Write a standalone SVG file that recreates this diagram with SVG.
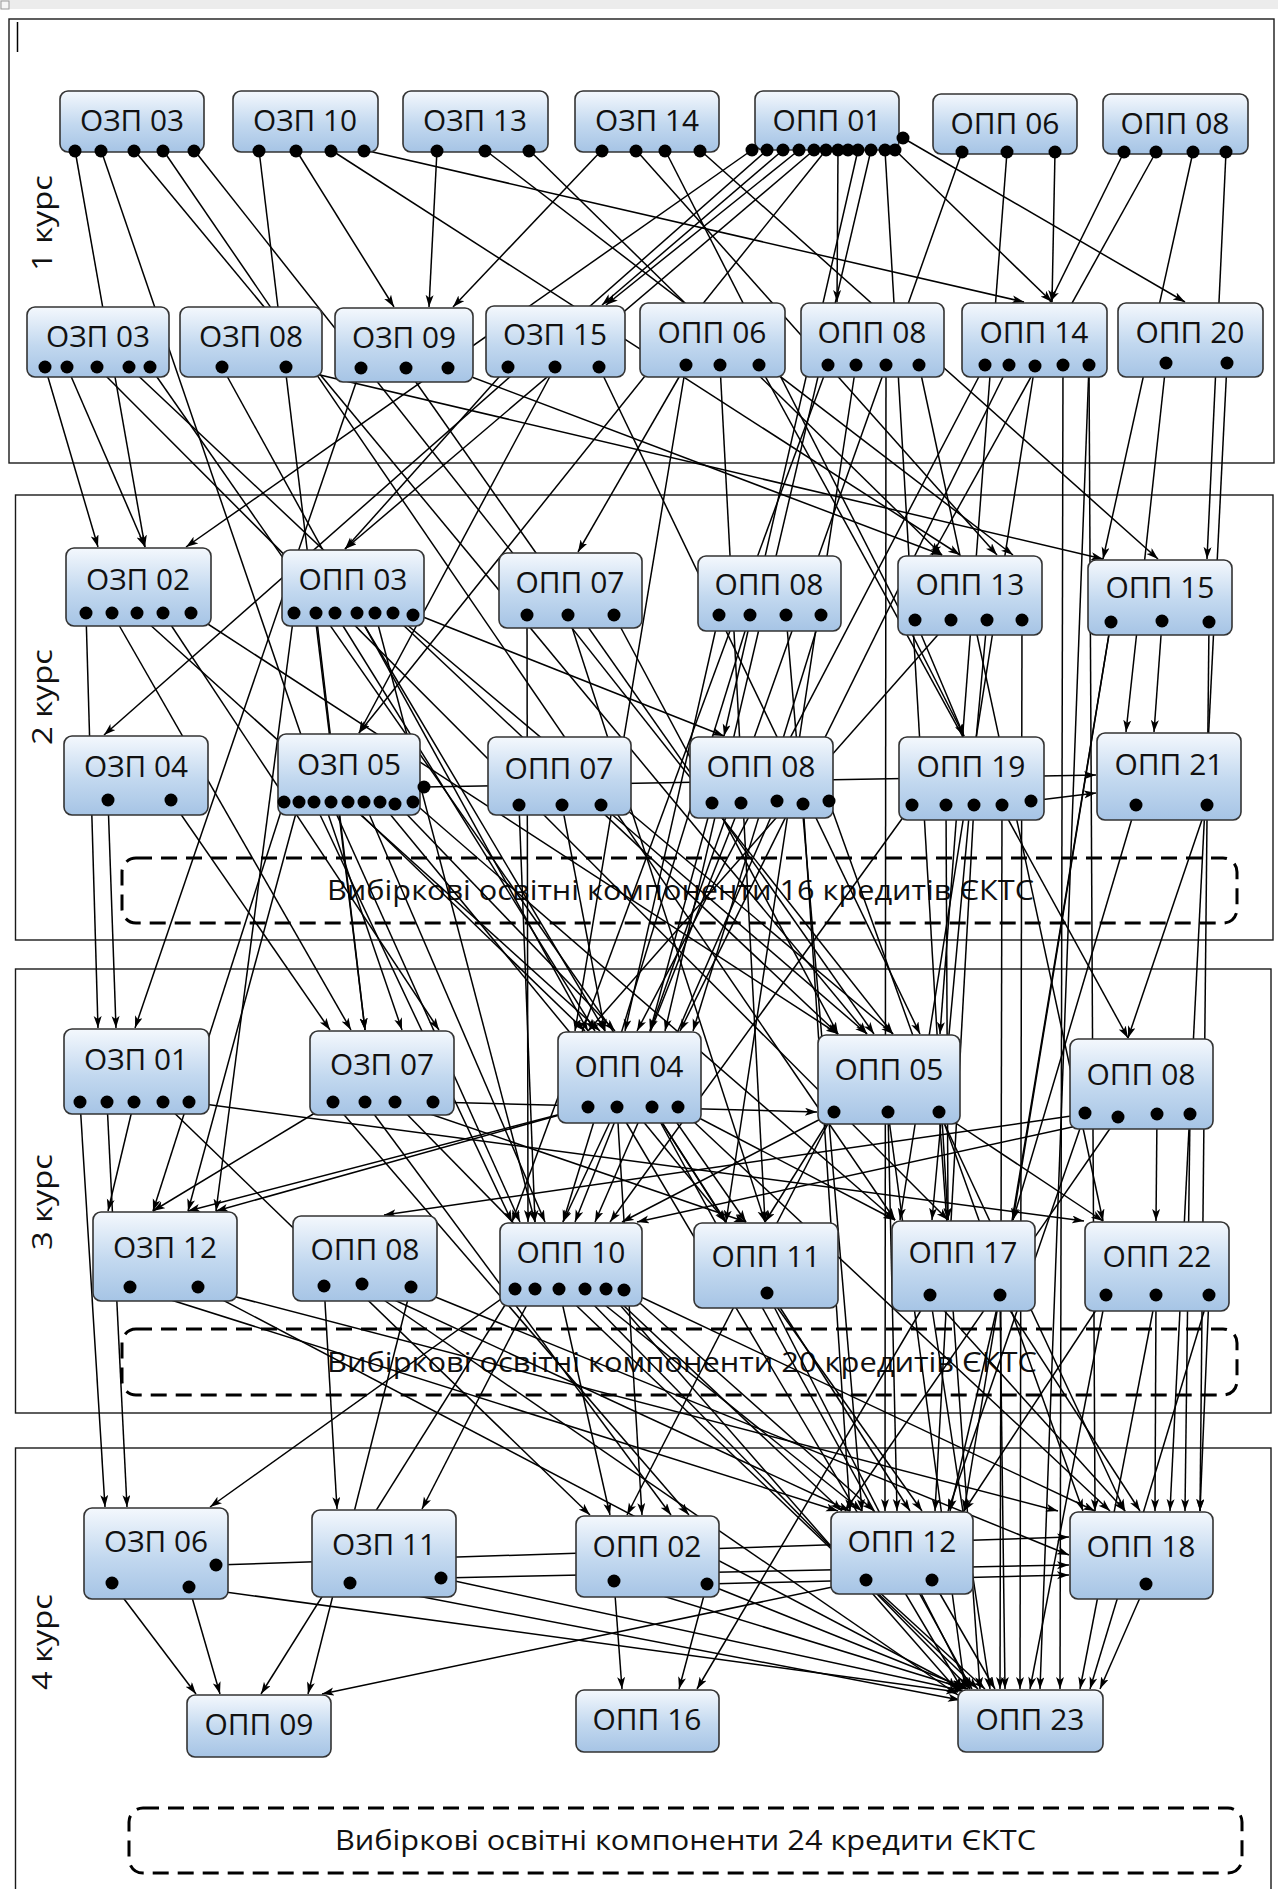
<svg xmlns="http://www.w3.org/2000/svg" width="1278" height="1889" viewBox="0 0 1278 1889">
<defs>
<linearGradient id="ng" x1="0" y1="0" x2="0" y2="1">
<stop offset="0" stop-color="#f4f8fd"/>
<stop offset="0.55" stop-color="#c2d8ef"/>
<stop offset="1" stop-color="#a6c4e5"/>
</linearGradient>
<marker id="ah" markerUnits="userSpaceOnUse" markerWidth="13" markerHeight="9" refX="12" refY="4" orient="auto">
<path d="M0,0 L12,4 L0,8 L3,4 z" fill="#000"/>
</marker>
<style>
.sec{fill:#fff;stroke:#1a1a1a;stroke-width:1.4}
.opt{fill:none;stroke:#000;stroke-width:3;stroke-dasharray:16 9}
.nb{fill:url(#ng);stroke:#333;stroke-width:1.6}
.lb{font-family:"Open Sans","Noto Sans","DejaVu Sans",sans-serif;font-size:30px;text-anchor:middle;fill:#111}
.sl{font-family:"Open Sans","Noto Sans","DejaVu Sans",sans-serif;font-size:27px;text-anchor:middle;fill:#111}
.ot{font-family:"Open Sans","Noto Sans","DejaVu Sans",sans-serif;font-size:28px;fill:#111}
.d{fill:#000}
#conn path{fill:none;stroke:#000;stroke-width:1.5}
</style>
</defs>
<rect x="0" y="0" width="1278" height="1889" fill="#fff"/>
<rect x="0" y="0" width="1278" height="9" fill="#ececec"/>
<rect x="1" y="1" width="8" height="8" fill="#f6f6f6" stroke="#9a9a9a" stroke-width="1"/>
<g id="sections">
<rect class="sec" x="9" y="19" width="1265" height="444"/>
<rect class="sec" x="15.5" y="495" width="1257.5" height="445"/>
<rect class="sec" x="15.5" y="969" width="1255.5" height="444"/>
<rect class="sec" x="15.5" y="1448" width="1255.5" height="460"/>
<line x1="17.5" y1="22" x2="17.5" y2="52" stroke="#000" stroke-width="1.5"/>
<text class="sl" transform="translate(52,223) rotate(-90)" textLength="96" lengthAdjust="spacingAndGlyphs">1 курс</text>
<text class="sl" transform="translate(52,697) rotate(-90)" textLength="96" lengthAdjust="spacingAndGlyphs">2 курс</text>
<text class="sl" transform="translate(52,1202) rotate(-90)" textLength="96" lengthAdjust="spacingAndGlyphs">3 курс</text>
<text class="sl" transform="translate(52,1642) rotate(-90)" textLength="96" lengthAdjust="spacingAndGlyphs">4 курс</text>
</g>
<g id="electives">
<rect class="opt" x="122" y="858" width="1115" height="65" rx="14"/>
<text class="ot" x="327" y="900" textLength="707" lengthAdjust="spacingAndGlyphs">Вибіркові освітні компоненти 16 кредитів ЄКТС</text>
<rect class="opt" x="122" y="1329" width="1115" height="66" rx="14"/>
<text class="ot" x="327" y="1372" textLength="710" lengthAdjust="spacingAndGlyphs">Вибіркові освітні компоненти 20 кредитів ЄКТС</text>
<rect class="opt" x="129" y="1808" width="1113" height="65" rx="14"/>
<text class="ot" x="335" y="1850" textLength="701" lengthAdjust="spacingAndGlyphs">Вибіркові освітні компоненти 24 кредити ЄКТС</text>
</g>
<g id="conn" marker-end="url(#ah)">
<path d="M75 150L145 547"/><path d="M101 150L402 1030"/><path d="M134 150L867 1034"/><path d="M163 150L895 1220"/><path d="M194 150L893 1034"/>
<path d="M259 150L365 1030"/><path d="M296 150L394 307"/><path d="M331 150L960 555"/><path d="M364 150L1024 302"/>
<path d="M437 150L429 307"/><path d="M485 150L1013 555"/><path d="M529 150L942 555"/>
<path d="M602 150L453 307"/><path d="M636 150L997 555"/><path d="M665 150L964 736"/><path d="M700 150L1158 559"/>
<path d="M752 150L186 547"/><path d="M767 150L104 735"/><path d="M783 150L602 305"/><path d="M799 150L606 305"/><path d="M814 150L345 549"/><path d="M826 150L359 733"/><path d="M838 150L837 302"/><path d="M858 150L724 736"/><path d="M871 150L665 1031"/><path d="M885 150L948 1220"/><path d="M895 150L1052 302"/><path d="M903 138L1185 302"/>
<path d="M962 152L650 1031"/><path d="M1007 152L940 1034"/><path d="M1055 152L1052 302"/>
<path d="M1124 152L1050 302"/><path d="M1156 152L932 555"/><path d="M1193 152L1103 559"/><path d="M1226 152L1207 559"/>
<path d="M45 367L98 547"/><path d="M67 367L145 547"/><path d="M97 367L948 1220"/><path d="M129 367L838 1034"/><path d="M150 367L746 1222"/>
<path d="M222 367L588 1031"/><path d="M286 367L1103 559"/>
<path d="M361 368L135 1028"/><path d="M406 368L874 1034"/><path d="M448 368L942 555"/>
<path d="M508 367L345 549"/><path d="M555 367L359 733"/><path d="M599 367L920 1034"/>
<path d="M686 365L575 1031"/><path d="M686 365L578 552"/><path d="M720 365L765 1222"/><path d="M759 365L1128 1038"/>
<path d="M828 365L512 1222"/><path d="M856 365L726 1222"/><path d="M886 365L885 1511"/><path d="M919 365L1103 1221"/>
<path d="M985 365L637 1031"/><path d="M1009 365L680 1031"/><path d="M1035 365L900 1220"/><path d="M1063 365L1060 1689"/><path d="M1089 365L1095 1511"/><path d="M1089 365L1040 1689"/>
<path d="M1166 363L1126 732"/><path d="M1227 363L1170 1511"/>
<path d="M86 613L98 1028"/><path d="M112 613L351 1030"/><path d="M137 613L600 1031"/><path d="M163 613L439 1030"/><path d="M191 613L838 1034"/>
<path d="M294 613L216 1211"/><path d="M316 613L365 1030"/><path d="M335 613L595 1031"/><path d="M357 613L605 1031"/><path d="M375 613L535 1222"/><path d="M393 613L893 1034"/><path d="M413 613L724 736"/>
<path d="M527 615L528 1222"/><path d="M568 615L765 1222"/><path d="M614 615L838 1034"/>
<path d="M719 615L625 1031"/><path d="M750 615L563 1222"/><path d="M786 615L862 1511"/><path d="M821 615L693 1031"/>
<path d="M915 620L964 736"/><path d="M951 620L588 1031"/><path d="M987 620L932 1220"/><path d="M1022 620L1020 1689"/>
<path d="M1111 622L964 1511"/><path d="M1111 622L1013 1220"/><path d="M1162 622L1154 732"/><path d="M1209 622L1200 1511"/>
<path d="M108 800L116 1028"/><path d="M171 800L330 1030"/>
<path d="M284 802L153 1211"/><path d="M299 802L188 1211"/><path d="M314 802L512 1222"/><path d="M331 802L520 1222"/><path d="M348 802L585 1031"/><path d="M364 802L545 1222"/><path d="M380 802L726 1222"/><path d="M395 802L615 1031"/><path d="M413 802L895 1220"/><path d="M424 787L1096 775"/>
<path d="M519 805L535 1222"/><path d="M562 805L605 1031"/><path d="M601 805L867 1034"/>
<path d="M712 803L650 1031"/><path d="M741 803L575 1222"/><path d="M777 803L595 1222"/><path d="M803 803L850 1511"/><path d="M829 801L1083 1511"/>
<path d="M912 805L610 1222"/><path d="M946 805L948 1220"/><path d="M974 805L935 1511"/><path d="M1002 805L1000 1689"/><path d="M1031 801L1096 793"/>
<path d="M1136 805L1013 1220"/><path d="M1207 805L1128 1038"/>
<path d="M80 1102L105 1507"/><path d="M107 1102L127 1507"/><path d="M134 1102L108 1211"/><path d="M163 1102L590 1515"/><path d="M189 1102L1084 1221"/>
<path d="M333 1102L689 1515"/><path d="M365 1102L671 1515"/><path d="M395 1102L746 1222"/><path d="M433 1102L817 1112"/><path d="M333 1102L153 1211"/><path d="M395 1102L970 1689"/>
<path d="M588 1107L216 1211"/><path d="M588 1107L188 1211"/><path d="M617 1107L563 1222"/><path d="M617 1107L642 1515"/><path d="M617 1107L962 1689"/><path d="M652 1107L726 1222"/><path d="M652 1107L910 1511"/><path d="M652 1107L972 1689"/><path d="M678 1107L895 1220"/><path d="M678 1107L1110 1511"/>
<path d="M834 1112L765 1222"/><path d="M834 1112L627 1515"/><path d="M834 1112L622 1222"/><path d="M888 1112L897 1511"/><path d="M888 1112L965 1689"/><path d="M939 1112L1103 1221"/><path d="M939 1112L1125 1511"/><path d="M939 1112L980 1689"/>
<path d="M1085 1114L384 1215"/><path d="M1118 1117L637 1222"/><path d="M1157 1114L1156 1221"/><path d="M1190 1114L1185 1511"/><path d="M1085 1114L948 1511"/><path d="M1118 1117L845 1511"/>
<path d="M130 1287L838 1511"/><path d="M198 1287L1058 1511"/><path d="M198 1287L963 1689"/>
<path d="M324 1285L337 1509"/><path d="M362 1285L850 1511"/><path d="M362 1285L958 1695"/><path d="M411 1287L308 1694"/><path d="M411 1287L1069 1555"/>
<path d="M515 1289L210 1507"/><path d="M515 1289L261 1694"/><path d="M535 1289L422 1509"/><path d="M559 1289L610 1515"/><path d="M559 1289L978 1689"/><path d="M585 1289L862 1511"/><path d="M606 1289L956 1689"/><path d="M606 1289L842 1511"/><path d="M624 1289L874 1511"/><path d="M624 1289L1095 1511"/>
<path d="M767 1293L970 1689"/><path d="M767 1293L922 1511"/>
<path d="M930 1295L697 1689"/><path d="M930 1295L990 1689"/><path d="M930 1295L1125 1511"/><path d="M1000 1295L1140 1511"/><path d="M1000 1295L1005 1689"/><path d="M1000 1295L950 1511"/>
<path d="M1106 1295L964 1511"/><path d="M1106 1295L1030 1689"/><path d="M1156 1295L1155 1511"/><path d="M1156 1295L1080 1689"/><path d="M1209 1295L1200 1511"/><path d="M1209 1295L1090 1689"/>
<path d="M112 1583L196 1694"/><path d="M189 1587L220 1694"/><path d="M189 1587L958 1692"/><path d="M216 1565L1069 1537"/>
<path d="M350 1583L960 1700"/><path d="M441 1578L1069 1565"/><path d="M441 1578L964 1691"/>
<path d="M614 1581L622 1689"/><path d="M614 1581L966 1689"/><path d="M707 1584L679 1689"/><path d="M707 1584L1069 1575"/><path d="M707 1584L968 1689"/>
<path d="M866 1580L322 1694"/><path d="M866 1580L985 1689"/><path d="M932 1580L995 1689"/><path d="M1146 1584L1100 1689"/>
</g>
<g id="n-A1"><rect class="nb" x="60" y="91" width="144" height="61" rx="8"/><text class="lb" x="132" y="131" textLength="104" lengthAdjust="spacingAndGlyphs">ОЗП 03</text><circle class="d" cx="75" cy="151" r="6.5"/><circle class="d" cx="101" cy="151" r="6.5"/><circle class="d" cx="134" cy="151" r="6.5"/><circle class="d" cx="163" cy="151" r="6.5"/><circle class="d" cx="194" cy="151" r="6.5"/></g>
<g id="n-A2"><rect class="nb" x="233" y="91" width="145" height="61" rx="8"/><text class="lb" x="305" y="131" textLength="104" lengthAdjust="spacingAndGlyphs">ОЗП 10</text><circle class="d" cx="259" cy="151" r="6.5"/><circle class="d" cx="296" cy="151" r="6.5"/><circle class="d" cx="331" cy="151" r="6.5"/><circle class="d" cx="364" cy="151" r="6.5"/></g>
<g id="n-A3"><rect class="nb" x="403" y="91" width="145" height="61" rx="8"/><text class="lb" x="475" y="131" textLength="104" lengthAdjust="spacingAndGlyphs">ОЗП 13</text><circle class="d" cx="437" cy="151" r="6.5"/><circle class="d" cx="485" cy="151" r="6.5"/><circle class="d" cx="529" cy="151" r="6.5"/></g>
<g id="n-A4"><rect class="nb" x="575" y="91" width="144" height="61" rx="8"/><text class="lb" x="647" y="131" textLength="104" lengthAdjust="spacingAndGlyphs">ОЗП 14</text><circle class="d" cx="602" cy="151" r="6.5"/><circle class="d" cx="636" cy="151" r="6.5"/><circle class="d" cx="665" cy="151" r="6.5"/><circle class="d" cx="700" cy="151" r="6.5"/></g>
<g id="n-A5"><rect class="nb" x="755" y="91" width="144" height="59" rx="8"/><text class="lb" x="827" y="131" textLength="109" lengthAdjust="spacingAndGlyphs">ОПП 01</text><circle class="d" cx="752" cy="150" r="6.5"/><circle class="d" cx="767" cy="150" r="6.5"/><circle class="d" cx="783" cy="150" r="6.5"/><circle class="d" cx="799" cy="150" r="6.5"/><circle class="d" cx="814" cy="150" r="6.5"/><circle class="d" cx="826" cy="150" r="6.5"/><circle class="d" cx="838" cy="150" r="6.5"/><circle class="d" cx="848" cy="150" r="6.5"/><circle class="d" cx="858" cy="150" r="6.5"/><circle class="d" cx="871" cy="150" r="6.5"/><circle class="d" cx="885" cy="150" r="6.5"/><circle class="d" cx="895" cy="150" r="6.5"/><circle class="d" cx="903" cy="138" r="6.5"/></g>
<g id="n-A6"><rect class="nb" x="933" y="94" width="144" height="60" rx="8"/><text class="lb" x="1005" y="134" textLength="109" lengthAdjust="spacingAndGlyphs">ОПП 06</text><circle class="d" cx="962" cy="152" r="6.5"/><circle class="d" cx="1007" cy="152" r="6.5"/><circle class="d" cx="1055" cy="152" r="6.5"/></g>
<g id="n-A7"><rect class="nb" x="1103" y="94" width="145" height="60" rx="8"/><text class="lb" x="1175" y="134" textLength="109" lengthAdjust="spacingAndGlyphs">ОПП 08</text><circle class="d" cx="1124" cy="152" r="6.5"/><circle class="d" cx="1156" cy="152" r="6.5"/><circle class="d" cx="1193" cy="152" r="6.5"/><circle class="d" cx="1226" cy="152" r="6.5"/></g>
<g id="n-B1"><rect class="nb" x="27" y="307" width="142" height="70" rx="8"/><text class="lb" x="98" y="347" textLength="104" lengthAdjust="spacingAndGlyphs">ОЗП 03</text><circle class="d" cx="45" cy="367" r="6.5"/><circle class="d" cx="67" cy="367" r="6.5"/><circle class="d" cx="97" cy="367" r="6.5"/><circle class="d" cx="129" cy="367" r="6.5"/><circle class="d" cx="150" cy="367" r="6.5"/></g>
<g id="n-B2"><rect class="nb" x="180" y="307" width="142" height="70" rx="8"/><text class="lb" x="251" y="347" textLength="104" lengthAdjust="spacingAndGlyphs">ОЗП 08</text><circle class="d" cx="222" cy="367" r="6.5"/><circle class="d" cx="286" cy="367" r="6.5"/></g>
<g id="n-B3"><rect class="nb" x="335" y="308" width="138" height="74" rx="8"/><text class="lb" x="404" y="348" textLength="104" lengthAdjust="spacingAndGlyphs">ОЗП 09</text><circle class="d" cx="361" cy="368" r="6.5"/><circle class="d" cx="406" cy="368" r="6.5"/><circle class="d" cx="448" cy="368" r="6.5"/></g>
<g id="n-B4"><rect class="nb" x="486" y="306" width="139" height="71" rx="8"/><text class="lb" x="555" y="345" textLength="104" lengthAdjust="spacingAndGlyphs">ОЗП 15</text><circle class="d" cx="508" cy="367" r="6.5"/><circle class="d" cx="555" cy="367" r="6.5"/><circle class="d" cx="599" cy="367" r="6.5"/></g>
<g id="n-B5"><rect class="nb" x="640" y="303" width="145" height="74" rx="8"/><text class="lb" x="712" y="343" textLength="109" lengthAdjust="spacingAndGlyphs">ОПП 06</text><circle class="d" cx="686" cy="365" r="6.5"/><circle class="d" cx="720" cy="365" r="6.5"/><circle class="d" cx="759" cy="365" r="6.5"/></g>
<g id="n-B6"><rect class="nb" x="801" y="303" width="143" height="74" rx="8"/><text class="lb" x="872" y="343" textLength="109" lengthAdjust="spacingAndGlyphs">ОПП 08</text><circle class="d" cx="828" cy="365" r="6.5"/><circle class="d" cx="856" cy="365" r="6.5"/><circle class="d" cx="886" cy="365" r="6.5"/><circle class="d" cx="919" cy="365" r="6.5"/></g>
<g id="n-B7"><rect class="nb" x="962" y="303" width="145" height="74" rx="8"/><text class="lb" x="1034" y="343" textLength="109" lengthAdjust="spacingAndGlyphs">ОПП 14</text><circle class="d" cx="985" cy="365" r="6.5"/><circle class="d" cx="1009" cy="365" r="6.5"/><circle class="d" cx="1035" cy="366" r="6.5"/><circle class="d" cx="1063" cy="365" r="6.5"/><circle class="d" cx="1089" cy="365" r="6.5"/></g>
<g id="n-B8"><rect class="nb" x="1118" y="303" width="145" height="74" rx="8"/><text class="lb" x="1190" y="343" textLength="109" lengthAdjust="spacingAndGlyphs">ОПП 20</text><circle class="d" cx="1166" cy="363" r="6.5"/><circle class="d" cx="1227" cy="363" r="6.5"/></g>
<g id="n-C1"><rect class="nb" x="66" y="548" width="145" height="78" rx="8"/><text class="lb" x="138" y="590" textLength="104" lengthAdjust="spacingAndGlyphs">ОЗП 02</text><circle class="d" cx="86" cy="613" r="6.5"/><circle class="d" cx="112" cy="613" r="6.5"/><circle class="d" cx="137" cy="613" r="6.5"/><circle class="d" cx="163" cy="613" r="6.5"/><circle class="d" cx="191" cy="613" r="6.5"/></g>
<g id="n-C2"><rect class="nb" x="282" y="550" width="142" height="76" rx="8"/><text class="lb" x="353" y="590" textLength="109" lengthAdjust="spacingAndGlyphs">ОПП 03</text><circle class="d" cx="294" cy="613" r="6.5"/><circle class="d" cx="316" cy="613" r="6.5"/><circle class="d" cx="335" cy="613" r="6.5"/><circle class="d" cx="357" cy="613" r="6.5"/><circle class="d" cx="375" cy="613" r="6.5"/><circle class="d" cx="393" cy="613" r="6.5"/><circle class="d" cx="413" cy="615" r="6.5"/></g>
<g id="n-C3"><rect class="nb" x="499" y="553" width="143" height="75" rx="8"/><text class="lb" x="570" y="593" textLength="109" lengthAdjust="spacingAndGlyphs">ОПП 07</text><circle class="d" cx="527" cy="615" r="6.5"/><circle class="d" cx="568" cy="615" r="6.5"/><circle class="d" cx="614" cy="615" r="6.5"/></g>
<g id="n-C4"><rect class="nb" x="698" y="556" width="143" height="75" rx="8"/><text class="lb" x="769" y="595" textLength="109" lengthAdjust="spacingAndGlyphs">ОПП 08</text><circle class="d" cx="719" cy="615" r="6.5"/><circle class="d" cx="750" cy="615" r="6.5"/><circle class="d" cx="786" cy="615" r="6.5"/><circle class="d" cx="821" cy="615" r="6.5"/></g>
<g id="n-C5"><rect class="nb" x="898" y="556" width="144" height="79" rx="8"/><text class="lb" x="970" y="595" textLength="109" lengthAdjust="spacingAndGlyphs">ОПП 13</text><circle class="d" cx="915" cy="620" r="6.5"/><circle class="d" cx="951" cy="620" r="6.5"/><circle class="d" cx="987" cy="620" r="6.5"/><circle class="d" cx="1022" cy="620" r="6.5"/></g>
<g id="n-C6"><rect class="nb" x="1088" y="560" width="144" height="75" rx="8"/><text class="lb" x="1160" y="598" textLength="109" lengthAdjust="spacingAndGlyphs">ОПП 15</text><circle class="d" cx="1111" cy="622" r="6.5"/><circle class="d" cx="1162" cy="621" r="6.5"/><circle class="d" cx="1209" cy="622" r="6.5"/></g>
<g id="n-D1"><rect class="nb" x="64" y="736" width="144" height="79" rx="8"/><text class="lb" x="136" y="777" textLength="104" lengthAdjust="spacingAndGlyphs">ОЗП 04</text><circle class="d" cx="108" cy="800" r="6.5"/><circle class="d" cx="171" cy="800" r="6.5"/></g>
<g id="n-D2"><rect class="nb" x="278" y="734" width="142" height="81" rx="8"/><text class="lb" x="349" y="775" textLength="104" lengthAdjust="spacingAndGlyphs">ОЗП 05</text><circle class="d" cx="284" cy="802" r="6.5"/><circle class="d" cx="299" cy="802" r="6.5"/><circle class="d" cx="314" cy="802" r="6.5"/><circle class="d" cx="331" cy="802" r="6.5"/><circle class="d" cx="348" cy="802" r="6.5"/><circle class="d" cx="364" cy="802" r="6.5"/><circle class="d" cx="380" cy="802" r="6.5"/><circle class="d" cx="395" cy="804" r="6.5"/><circle class="d" cx="413" cy="802" r="6.5"/><circle class="d" cx="424" cy="787" r="6.5"/></g>
<g id="n-D3"><rect class="nb" x="488" y="737" width="143" height="78" rx="8"/><text class="lb" x="559" y="779" textLength="109" lengthAdjust="spacingAndGlyphs">ОПП 07</text><circle class="d" cx="519" cy="805" r="6.5"/><circle class="d" cx="562" cy="805" r="6.5"/><circle class="d" cx="601" cy="805" r="6.5"/></g>
<g id="n-D4"><rect class="nb" x="690" y="737" width="143" height="81" rx="8"/><text class="lb" x="761" y="777" textLength="109" lengthAdjust="spacingAndGlyphs">ОПП 08</text><circle class="d" cx="712" cy="803" r="6.5"/><circle class="d" cx="741" cy="803" r="6.5"/><circle class="d" cx="777" cy="801" r="6.5"/><circle class="d" cx="803" cy="804" r="6.5"/><circle class="d" cx="829" cy="801" r="6.5"/></g>
<g id="n-D5"><rect class="nb" x="899" y="737" width="145" height="83" rx="8"/><text class="lb" x="971" y="777" textLength="109" lengthAdjust="spacingAndGlyphs">ОПП 19</text><circle class="d" cx="912" cy="805" r="6.5"/><circle class="d" cx="946" cy="805" r="6.5"/><circle class="d" cx="974" cy="805" r="6.5"/><circle class="d" cx="1002" cy="805" r="6.5"/><circle class="d" cx="1031" cy="801" r="6.5"/></g>
<g id="n-D6"><rect class="nb" x="1097" y="733" width="144" height="87" rx="8"/><text class="lb" x="1169" y="775" textLength="109" lengthAdjust="spacingAndGlyphs">ОПП 21</text><circle class="d" cx="1136" cy="805" r="6.5"/><circle class="d" cx="1207" cy="805" r="6.5"/></g>
<g id="n-E1"><rect class="nb" x="64" y="1029" width="145" height="85" rx="8"/><text class="lb" x="136" y="1070" textLength="104" lengthAdjust="spacingAndGlyphs">ОЗП 01</text><circle class="d" cx="80" cy="1102" r="6.5"/><circle class="d" cx="107" cy="1102" r="6.5"/><circle class="d" cx="134" cy="1102" r="6.5"/><circle class="d" cx="163" cy="1102" r="6.5"/><circle class="d" cx="189" cy="1102" r="6.5"/></g>
<g id="n-E2"><rect class="nb" x="310" y="1031" width="144" height="84" rx="8"/><text class="lb" x="382" y="1075" textLength="104" lengthAdjust="spacingAndGlyphs">ОЗП 07</text><circle class="d" cx="333" cy="1102" r="6.5"/><circle class="d" cx="365" cy="1102" r="6.5"/><circle class="d" cx="395" cy="1102" r="6.5"/><circle class="d" cx="433" cy="1102" r="6.5"/></g>
<g id="n-E3"><rect class="nb" x="558" y="1032" width="143" height="91" rx="8"/><text class="lb" x="629" y="1077" textLength="109" lengthAdjust="spacingAndGlyphs">ОПП 04</text><circle class="d" cx="588" cy="1107" r="6.5"/><circle class="d" cx="617" cy="1107" r="6.5"/><circle class="d" cx="652" cy="1107" r="6.5"/><circle class="d" cx="678" cy="1107" r="6.5"/></g>
<g id="n-E4"><rect class="nb" x="818" y="1035" width="142" height="89" rx="8"/><text class="lb" x="889" y="1080" textLength="109" lengthAdjust="spacingAndGlyphs">ОПП 05</text><circle class="d" cx="834" cy="1112" r="6.5"/><circle class="d" cx="888" cy="1112" r="6.5"/><circle class="d" cx="939" cy="1112" r="6.5"/></g>
<g id="n-E5"><rect class="nb" x="1070" y="1039" width="143" height="90" rx="8"/><text class="lb" x="1141" y="1085" textLength="109" lengthAdjust="spacingAndGlyphs">ОПП 08</text><circle class="d" cx="1085" cy="1113" r="6.5"/><circle class="d" cx="1118" cy="1117" r="6.5"/><circle class="d" cx="1157" cy="1114" r="6.5"/><circle class="d" cx="1190" cy="1114" r="6.5"/></g>
<g id="n-F1"><rect class="nb" x="93" y="1212" width="144" height="89" rx="8"/><text class="lb" x="165" y="1258" textLength="104" lengthAdjust="spacingAndGlyphs">ОЗП 12</text><circle class="d" cx="130" cy="1287" r="6.5"/><circle class="d" cx="198" cy="1287" r="6.5"/></g>
<g id="n-F2"><rect class="nb" x="293" y="1216" width="144" height="85" rx="8"/><text class="lb" x="365" y="1260" textLength="109" lengthAdjust="spacingAndGlyphs">ОПП 08</text><circle class="d" cx="324" cy="1286" r="6.5"/><circle class="d" cx="362" cy="1284" r="6.5"/><circle class="d" cx="411" cy="1287" r="6.5"/></g>
<g id="n-F3"><rect class="nb" x="500" y="1223" width="142" height="83" rx="8"/><text class="lb" x="571" y="1263" textLength="109" lengthAdjust="spacingAndGlyphs">ОПП 10</text><circle class="d" cx="515" cy="1289" r="6.5"/><circle class="d" cx="535" cy="1289" r="6.5"/><circle class="d" cx="559" cy="1289" r="6.5"/><circle class="d" cx="585" cy="1289" r="6.5"/><circle class="d" cx="606" cy="1289" r="6.5"/><circle class="d" cx="624" cy="1290" r="6.5"/></g>
<g id="n-F4"><rect class="nb" x="694" y="1223" width="144" height="85" rx="8"/><text class="lb" x="766" y="1267" textLength="109" lengthAdjust="spacingAndGlyphs">ОПП 11</text><circle class="d" cx="767" cy="1293" r="6.5"/></g>
<g id="n-F5"><rect class="nb" x="892" y="1221" width="143" height="90" rx="8"/><text class="lb" x="963" y="1263" textLength="109" lengthAdjust="spacingAndGlyphs">ОПП 17</text><circle class="d" cx="930" cy="1295" r="6.5"/><circle class="d" cx="1000" cy="1295" r="6.5"/></g>
<g id="n-F6"><rect class="nb" x="1085" y="1222" width="144" height="89" rx="8"/><text class="lb" x="1157" y="1267" textLength="109" lengthAdjust="spacingAndGlyphs">ОПП 22</text><circle class="d" cx="1106" cy="1295" r="6.5"/><circle class="d" cx="1156" cy="1295" r="6.5"/><circle class="d" cx="1209" cy="1295" r="6.5"/></g>
<g id="n-G1"><rect class="nb" x="84" y="1508" width="144" height="91" rx="8"/><text class="lb" x="156" y="1552" textLength="104" lengthAdjust="spacingAndGlyphs">ОЗП 06</text><circle class="d" cx="112" cy="1583" r="6.5"/><circle class="d" cx="189" cy="1587" r="6.5"/><circle class="d" cx="216" cy="1565" r="6.5"/></g>
<g id="n-G2"><rect class="nb" x="312" y="1510" width="144" height="87" rx="8"/><text class="lb" x="384" y="1555" textLength="104" lengthAdjust="spacingAndGlyphs">ОЗП 11</text><circle class="d" cx="350" cy="1583" r="6.5"/><circle class="d" cx="441" cy="1578" r="6.5"/></g>
<g id="n-G3"><rect class="nb" x="576" y="1516" width="143" height="81" rx="8"/><text class="lb" x="647" y="1557" textLength="109" lengthAdjust="spacingAndGlyphs">ОПП 02</text><circle class="d" cx="614" cy="1581" r="6.5"/><circle class="d" cx="707" cy="1584" r="6.5"/></g>
<g id="n-G4"><rect class="nb" x="831" y="1512" width="142" height="82" rx="8"/><text class="lb" x="902" y="1552" textLength="109" lengthAdjust="spacingAndGlyphs">ОПП 12</text><circle class="d" cx="866" cy="1580" r="6.5"/><circle class="d" cx="932" cy="1580" r="6.5"/></g>
<g id="n-G5"><rect class="nb" x="1070" y="1512" width="143" height="87" rx="8"/><text class="lb" x="1141" y="1557" textLength="109" lengthAdjust="spacingAndGlyphs">ОПП 18</text><circle class="d" cx="1146" cy="1584" r="6.5"/></g>
<g id="n-H1"><rect class="nb" x="187" y="1695" width="144" height="62" rx="8"/><text class="lb" x="259" y="1735" textLength="109" lengthAdjust="spacingAndGlyphs">ОПП 09</text></g>
<g id="n-H2"><rect class="nb" x="576" y="1690" width="143" height="62" rx="8"/><text class="lb" x="647" y="1730" textLength="109" lengthAdjust="spacingAndGlyphs">ОПП 16</text></g>
<g id="n-H3"><rect class="nb" x="958" y="1690" width="145" height="62" rx="8"/><text class="lb" x="1030" y="1730" textLength="109" lengthAdjust="spacingAndGlyphs">ОПП 23</text></g>
</svg>
